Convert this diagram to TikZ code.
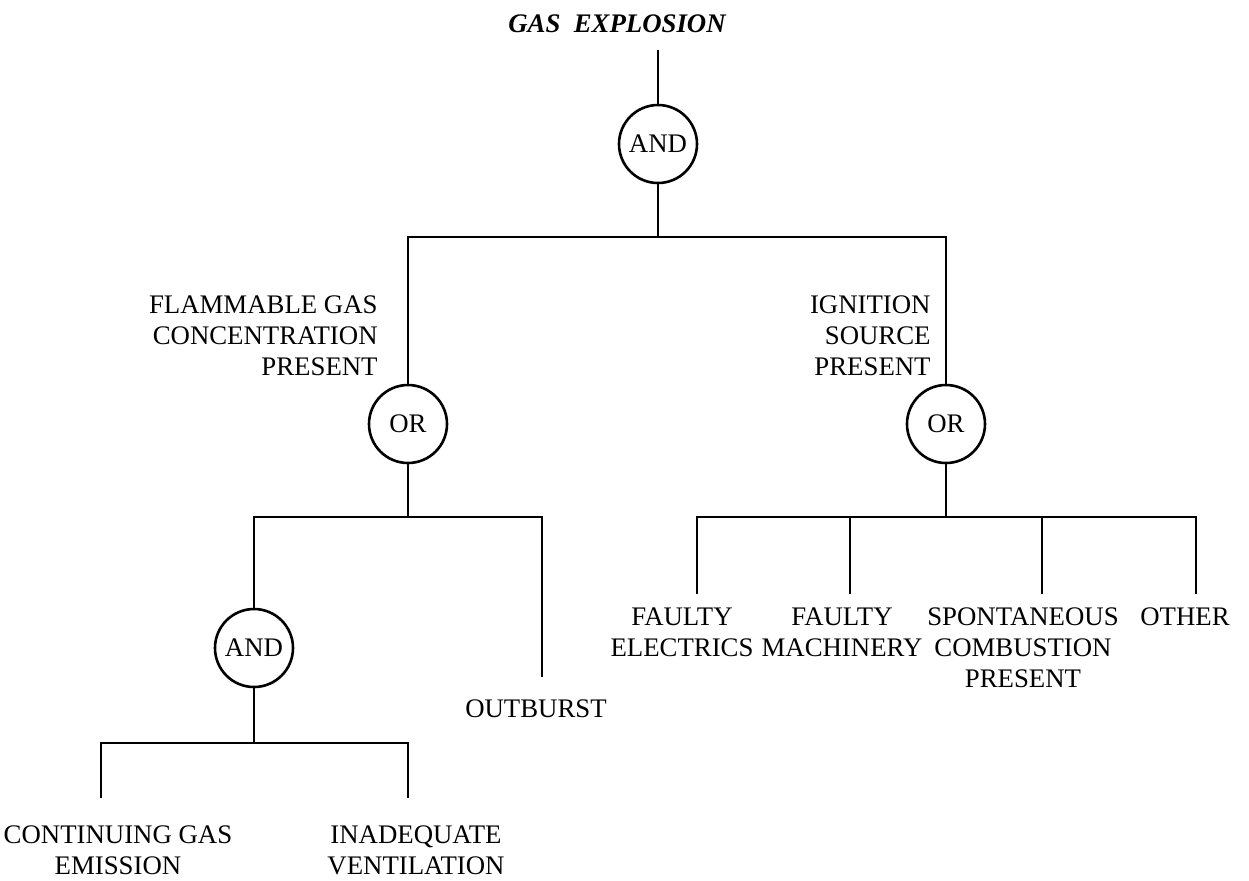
\documentclass[tikz,border=0pt]{standalone}
\usepackage{fontspec}
\setmainfont{Liberation Serif}
\begin{document}
\begin{tikzpicture}[x=0.5pt,y=-0.5pt,
		font=\fontsize{13.4pt}{15.5pt}\selectfont,
		wire/.style={line width=1.3pt},
		gate/.style={draw,circle,line width=1.3pt,minimum size=39pt,inner sep=0pt},
		event/.style={align=center,inner sep=0pt,anchor=north}]
		\useasboundingbox (0,0) rectangle (1249,880);
		
		\node[anchor=base] (top) at (617,32) {\bfseries\itshape GAS\ \ EXPLOSION};
		
		\node[gate] (and1) at (658,144) {AND};
		\node[gate] (or1) at (408,424) {OR};
		\node[gate] (or2) at (946,424) {OR};
		\node[gate] (and2) at (254,648) {AND};
		
		\node[event,anchor=north east,align=right] (flam) at (378,295) {FLAMMABLE GAS\\CONCENTRATION\\PRESENT};
		\node[event,anchor=north east,align=right] (ign) at (931,295) {IGNITION\\SOURCE\\PRESENT};
		
		\node[event] (fe) at (682,607) {FAULTY\\ELECTRICS};
		\node[event] (fm) at (842,607) {FAULTY\\MACHINERY};
		\node[event] (sc) at (1023,607) {SPONTANEOUS\\COMBUSTION\\PRESENT};
		\node[event] (oth) at (1185,607) {OTHER};
		\node[event] (ob) at (536,699) {OUTBURST};
		\node[event] (ce) at (118,825) {CONTINUING GAS\\EMISSION};
		\node[event] (iv) at (416,825) {INADEQUATE\\VENTILATION};
		
		% bar junctions
		\coordinate (t0) at (658,50);
		\coordinate (b1) at (658,237);
		\coordinate (b2) at (408,517);
		\coordinate (b3) at (946,517);
		\coordinate (b4) at (254,743);
		
		% ends of the drops above the basic events
		\coordinate (fe-in) at (697,594);
		\coordinate (fm-in) at (850,594);
		\coordinate (sc-in) at (1042,594);
		\coordinate (oth-in) at (1196,594);
		\coordinate (ob-in) at (542,677);
		\coordinate (ce-in) at (101,798);
		\coordinate (iv-in) at (408,798);
		
		\draw[wire] (t0) -- (and1.north);
		\draw[wire] (and1.south) -- (b1);
		\draw[wire] (b1) -| (or1.north);
		\draw[wire] (b1) -| (or2.north);
		
		\draw[wire] (or1.south) -- (b2);
		\draw[wire] (b2) -| (and2.north);
		\draw[wire] (b2) -| (ob-in);
		
		\draw[wire] (and2.south) -- (b4);
		\draw[wire] (b4) -| (ce-in);
		\draw[wire] (b4) -| (iv-in);
		
		\draw[wire] (or2.south) -- (b3);
		\draw[wire] (b3) -| (fe-in);
		\draw[wire] (b3) -| (fm-in);
		\draw[wire] (b3) -| (sc-in);
		\draw[wire] (b3) -| (oth-in);
\end{tikzpicture}
\end{document}
